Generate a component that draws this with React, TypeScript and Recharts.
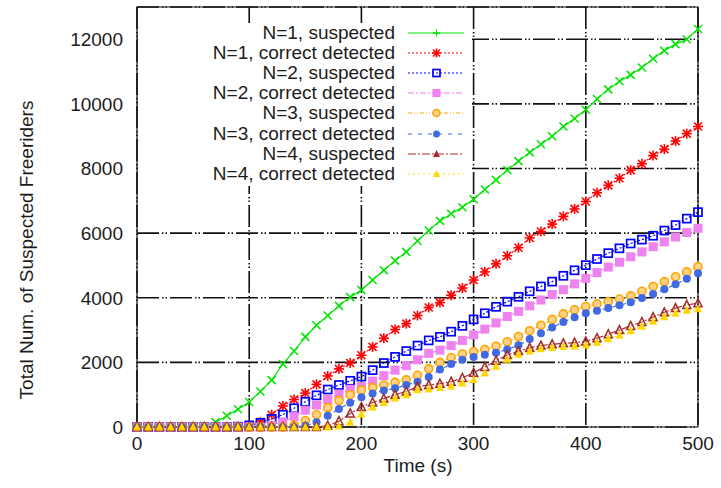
import React from "react";
import { LineChart, Line, XAxis, YAxis, CartesianGrid, ReferenceArea } from "recharts";

// time axis (s), one sample every 10 s
const TIMES = [
  0, 10, 20, 30, 40, 50, 60, 70, 80, 90, 100, 110, 120, 130, 140, 150, 160, 170, 180, 190, 200,
  210, 220, 230, 240, 250, 260, 270, 280, 290, 300, 310, 320, 330, 340, 350, 360, 370, 380, 390, 400,
  410, 420, 430, 440, 450, 460, 470, 480, 490, 500,
];

const N1_SUSPECTED = [
  0, 0, 0, 0, 0, 0, 30, 150, 350, 550, 775, 1100, 1450, 1950, 2350, 2790, 3150, 3450, 3750, 4020, 4240,
  4550, 4850, 5150, 5420, 5760, 6080, 6380, 6600, 6800, 7050, 7350, 7650, 7950, 8230, 8500, 8750, 9000, 9300, 9550, 9820,
  10150, 10450, 10700, 10900, 11130, 11400, 11650, 11850, 12000, 12320,
];
const N1_CORRECT = [
  0, 0, 0, 0, 0, 0, 0, 0, 0, 0, 30, 150, 380, 650, 850, 1050, 1320, 1580, 1800, 1980, 2220,
  2480, 2750, 3020, 3200, 3450, 3700, 3850, 4080, 4300, 4550, 4800, 5050, 5300, 5550, 5850, 6050, 6280, 6520, 6750, 6980,
  7250, 7480, 7700, 7950, 8150, 8400, 8600, 8850, 9080, 9300,
];
const N2_SUSPECTED = [
  0, 0, 0, 0, 0, 0, 0, 0, 0, 10, 50, 130, 250, 380, 580, 780, 980, 1160, 1300, 1430, 1560,
  1760, 1980, 2170, 2350, 2520, 2680, 2790, 2950, 3130, 3330, 3520, 3720, 3880, 4030, 4200, 4350, 4500, 4680, 4850, 5010,
  5200, 5380, 5530, 5680, 5800, 5920, 6080, 6250, 6450, 6650,
];
const N2_CORRECT = [
  0, 0, 0, 0, 0, 0, 0, 0, 0, 0, 0, 0, 50, 150, 330, 520, 680, 850, 1020, 1170, 1250,
  1420, 1590, 1760, 1900, 2080, 2280, 2380, 2520, 2680, 2850, 3030, 3220, 3420, 3580, 3750, 3930, 4100, 4250, 4430, 4600,
  4780, 4950, 5100, 5270, 5420, 5580, 5730, 5880, 6020, 6150,
];
const N3_SUSPECTED = [
  0, 0, 0, 0, 0, 0, 0, 0, 0, 0, 0, 0, 0, 0, 60, 200, 380, 600, 820, 1000, 1140,
  1220, 1300, 1380, 1460, 1600, 1800, 2000, 2150, 2260, 2330, 2400, 2500, 2640, 2800, 2980, 3150, 3330, 3500, 3630, 3730,
  3810, 3880, 3960, 4060, 4200, 4350, 4500, 4650, 4800, 4960,
];
const N3_CORRECT = [
  0, 0, 0, 0, 0, 0, 0, 0, 0, 0, 0, 0, 0, 0, 0, 40, 150, 350, 560, 750, 920,
  1040, 1130, 1200, 1300, 1400, 1550, 1780, 1950, 2080, 2170, 2240, 2300, 2400, 2530, 2720, 2900, 3080, 3250, 3400, 3520,
  3600, 3680, 3770, 3860, 3990, 4120, 4260, 4420, 4590, 4760,
];
const N4_SUSPECTED = [
  0, 0, 0, 0, 0, 0, 0, 0, 0, 0, 0, 0, 0, 0, 0, 0, 0, 40, 180, 420, 620,
  760, 880, 1000, 1100, 1250, 1300, 1340, 1400, 1520, 1680, 1860, 2050, 2230, 2350, 2450, 2520, 2560, 2590, 2610, 2650,
  2750, 2870, 3000, 3130, 3250, 3400, 3550, 3680, 3780, 3830,
];
const N4_CORRECT = [
  0, 0, 0, 0, 0, 0, 0, 0, 0, 0, 0, 0, 0, 0, 0, 0, 0, 0, 30, 150, 400,
  620, 760, 900, 1000, 1150, 1180, 1220, 1270, 1360, 1470, 1670, 1880, 2100, 2250, 2350, 2420, 2460, 2490, 2510, 2540,
  2620, 2730, 2850, 2980, 3120, 3270, 3410, 3530, 3610, 3660,
];

const X_TICKS = [0, 100, 200, 300, 400, 500];
const Y_TICKS = [0, 2000, 4000, 6000, 8000, 10000, 12000];

type Shape = "x" | "plus" | "star" | "square" | "squareFill" | "circle" | "circleFill" | "triangle" | "triangleFill";

const SERIES: { key: string; name: string; color: string; dash?: string; shape: Shape; legendShape: Shape }[] = [
  { key: "n1s", name: "N=1, suspected", color: "#00e400", shape: "x", legendShape: "plus" },
  { key: "n1c", name: "N=1, correct detected", color: "#ff0000", dash: "2 2", shape: "star", legendShape: "star" },
  { key: "n2s", name: "N=2, suspected", color: "#0000ff", dash: "2 2", shape: "square", legendShape: "square" },
  { key: "n2c", name: "N=2, correct detected", color: "#ee82ee", dash: "6 2 2 2", shape: "squareFill", legendShape: "squareFill" },
  { key: "n3s", name: "N=3, suspected", color: "#ffa500", dash: "4 2 1 2 1 2", shape: "circle", legendShape: "circle" },
  { key: "n3c", name: "N=3, correct detected", color: "#4169e1", dash: "4 6", shape: "circleFill", legendShape: "circleFill" },
  { key: "n4s", name: "N=4, suspected", color: "#a52a2a", dash: "8 2 2 2", shape: "triangle", legendShape: "triangleFill" },
  { key: "n4c", name: "N=4, correct detected", color: "#ffd700", dash: "2 3", shape: "triangleFill", legendShape: "triangleFill" },
];

const data = TIMES.map((t, i) => ({
  t,
  n1s: N1_SUSPECTED[i],
  n1c: N1_CORRECT[i],
  n2s: N2_SUSPECTED[i],
  n2c: N2_CORRECT[i],
  n3s: N3_SUSPECTED[i],
  n3c: N3_CORRECT[i],
  n4s: N4_SUSPECTED[i],
  n4c: N4_CORRECT[i],
}));

const FONT = '"Liberation Sans", Arial, Helvetica, sans-serif';
const TEXT = "#1c1c1c";

function Marker({ shape, color, cx, cy, r = 4 }: { shape: Shape; color: string; cx: number; cy: number; r?: number }) {
  if (cx == null || cy == null) return <g />;
  switch (shape) {
    case "x":
      return (
        <g stroke={color} strokeWidth={1.5}>
          <line x1={cx - r} y1={cy - r} x2={cx + r} y2={cy + r} />
          <line x1={cx - r} y1={cy + r} x2={cx + r} y2={cy - r} />
        </g>
      );
    case "plus":
      return (
        <g stroke={color} strokeWidth={1.3}>
          <line x1={cx - r} y1={cy} x2={cx + r} y2={cy} />
          <line x1={cx} y1={cy - r} x2={cx} y2={cy + r} />
        </g>
      );
    case "star":
      return (
        <g stroke={color} strokeWidth={1.6}>
          <line x1={cx - r} y1={cy - r} x2={cx + r} y2={cy + r} />
          <line x1={cx - r} y1={cy + r} x2={cx + r} y2={cy - r} />
          <line x1={cx - r - 1} y1={cy} x2={cx + r + 1} y2={cy} />
          <line x1={cx} y1={cy - r - 1} x2={cx} y2={cy + r + 1} />
        </g>
      );
    case "square":
      return <rect x={cx - r} y={cy - r} width={2 * r} height={2 * r} fill="none" stroke={color} strokeWidth={1.7} />;
    case "squareFill":
      return <rect x={cx - r - 0.5} y={cy - r - 0.5} width={2 * r + 1} height={2 * r + 1} fill={color} />;
    case "circle":
      return <circle cx={cx} cy={cy} r={r} fill="#ffd38a" stroke={color} strokeWidth={1.6} />;
    case "circleFill":
      return <circle cx={cx} cy={cy} r={r} fill={color} />;
    case "triangle":
      return (
        <polygon
          points={`${cx},${cy - r - 0.5} ${cx - r},${cy + r - 0.5} ${cx + r},${cy + r - 0.5}`}
          fill="none"
          stroke={color}
          strokeWidth={1.5}
        />
      );
    case "triangleFill":
      return (
        <polygon points={`${cx},${cy - r - 0.5} ${cx - r},${cy + r - 0.5} ${cx + r},${cy + r - 0.5}`} fill={color} />
      );
  }
  return <g />;
}

function LegendBox() {
  return (
    <div
      style={{
        position: "absolute",
        left: 138,
        top: 23,
        width: 334,
        height: 163,
        background: "#fff",
        fontFamily: FONT,
        fontSize: 19,
        color: TEXT,
      }}
    >
      {SERIES.map((s, i) => (
        <div key={s.key} style={{ position: "absolute", left: 0, top: i * 20.1, height: 20, width: 334 }}>
          <div style={{ position: "absolute", right: 334 - 257, top: 0, lineHeight: "20px", whiteSpace: "nowrap" }}>
            {s.name}
          </div>
          <svg style={{ position: "absolute", left: 270, top: 0 }} width={56} height={20}>
            <line x1={0} y1={10} x2={56} y2={10} stroke={s.color} strokeWidth={1} strokeDasharray={s.dash} />
            <Marker shape={s.legendShape} color={s.color} cx={28.5} cy={10} r={3.5} />
          </svg>
        </div>
      ))}
    </div>
  );
}

export default function App() {
  return (
    <div style={{ position: "absolute", left: 0, top: 0, width: 721, height: 488, background: "#fff" }}>
      <LineChart width={721} height={488} data={data} margin={{ top: 7, right: 23, bottom: 21, left: 0 }}>
        <CartesianGrid stroke="#111" strokeWidth={1.6} strokeDasharray="22 3 1.5 2 1.5 3" />
        <XAxis
          dataKey="t"
          type="number"
          domain={[0, 500]}
          ticks={X_TICKS}
          height={40}
          tickLine={false}
          axisLine={false}
          tickSize={0}
          tickMargin={10}
          tick={{ fontSize: 19, fill: TEXT, fontFamily: FONT }}
        />
        <YAxis
          type="number"
          domain={[0, 13000]}
          ticks={Y_TICKS}
          width={137}
          tickLine={false}
          axisLine={false}
          tickSize={0}
          tickMargin={14}
          tick={{ fontSize: 19, fill: TEXT, fontFamily: FONT }}
        />
        {SERIES.map((s) => (
          <Line
            key={s.key}
            dataKey={s.key}
            name={s.name}
            type="linear"
            stroke={s.color}
            strokeWidth={1.2}
            strokeDasharray={s.dash}
            isAnimationActive={false}
            dot={(p: any) => <Marker key={`${s.key}-${p.index}`} shape={s.shape} color={s.color} cx={p.cx} cy={p.cy} />}
            activeDot={false}
          />
        ))}
        <ReferenceArea x1={0} x2={500} y1={0} y2={13000} fill="none" stroke="#111" strokeWidth={1.2} ifOverflow="visible" />
      </LineChart>
      <LegendBox />
      <div
        style={{
          position: "absolute",
          left: 27,
          top: 250,
          transform: "translate(-50%, -50%) rotate(-90deg)",
          whiteSpace: "nowrap",
          fontFamily: FONT,
          fontSize: 19,
          color: TEXT,
        }}
      >
        Total Num. of Suspected Freeriders
      </div>
      <div
        style={{
          position: "absolute",
          left: 418,
          top: 466,
          transform: "translate(-50%, -50%)",
          whiteSpace: "nowrap",
          fontFamily: FONT,
          fontSize: 19,
          color: TEXT,
        }}
      >
        Time (s)
      </div>
    </div>
  );
}
